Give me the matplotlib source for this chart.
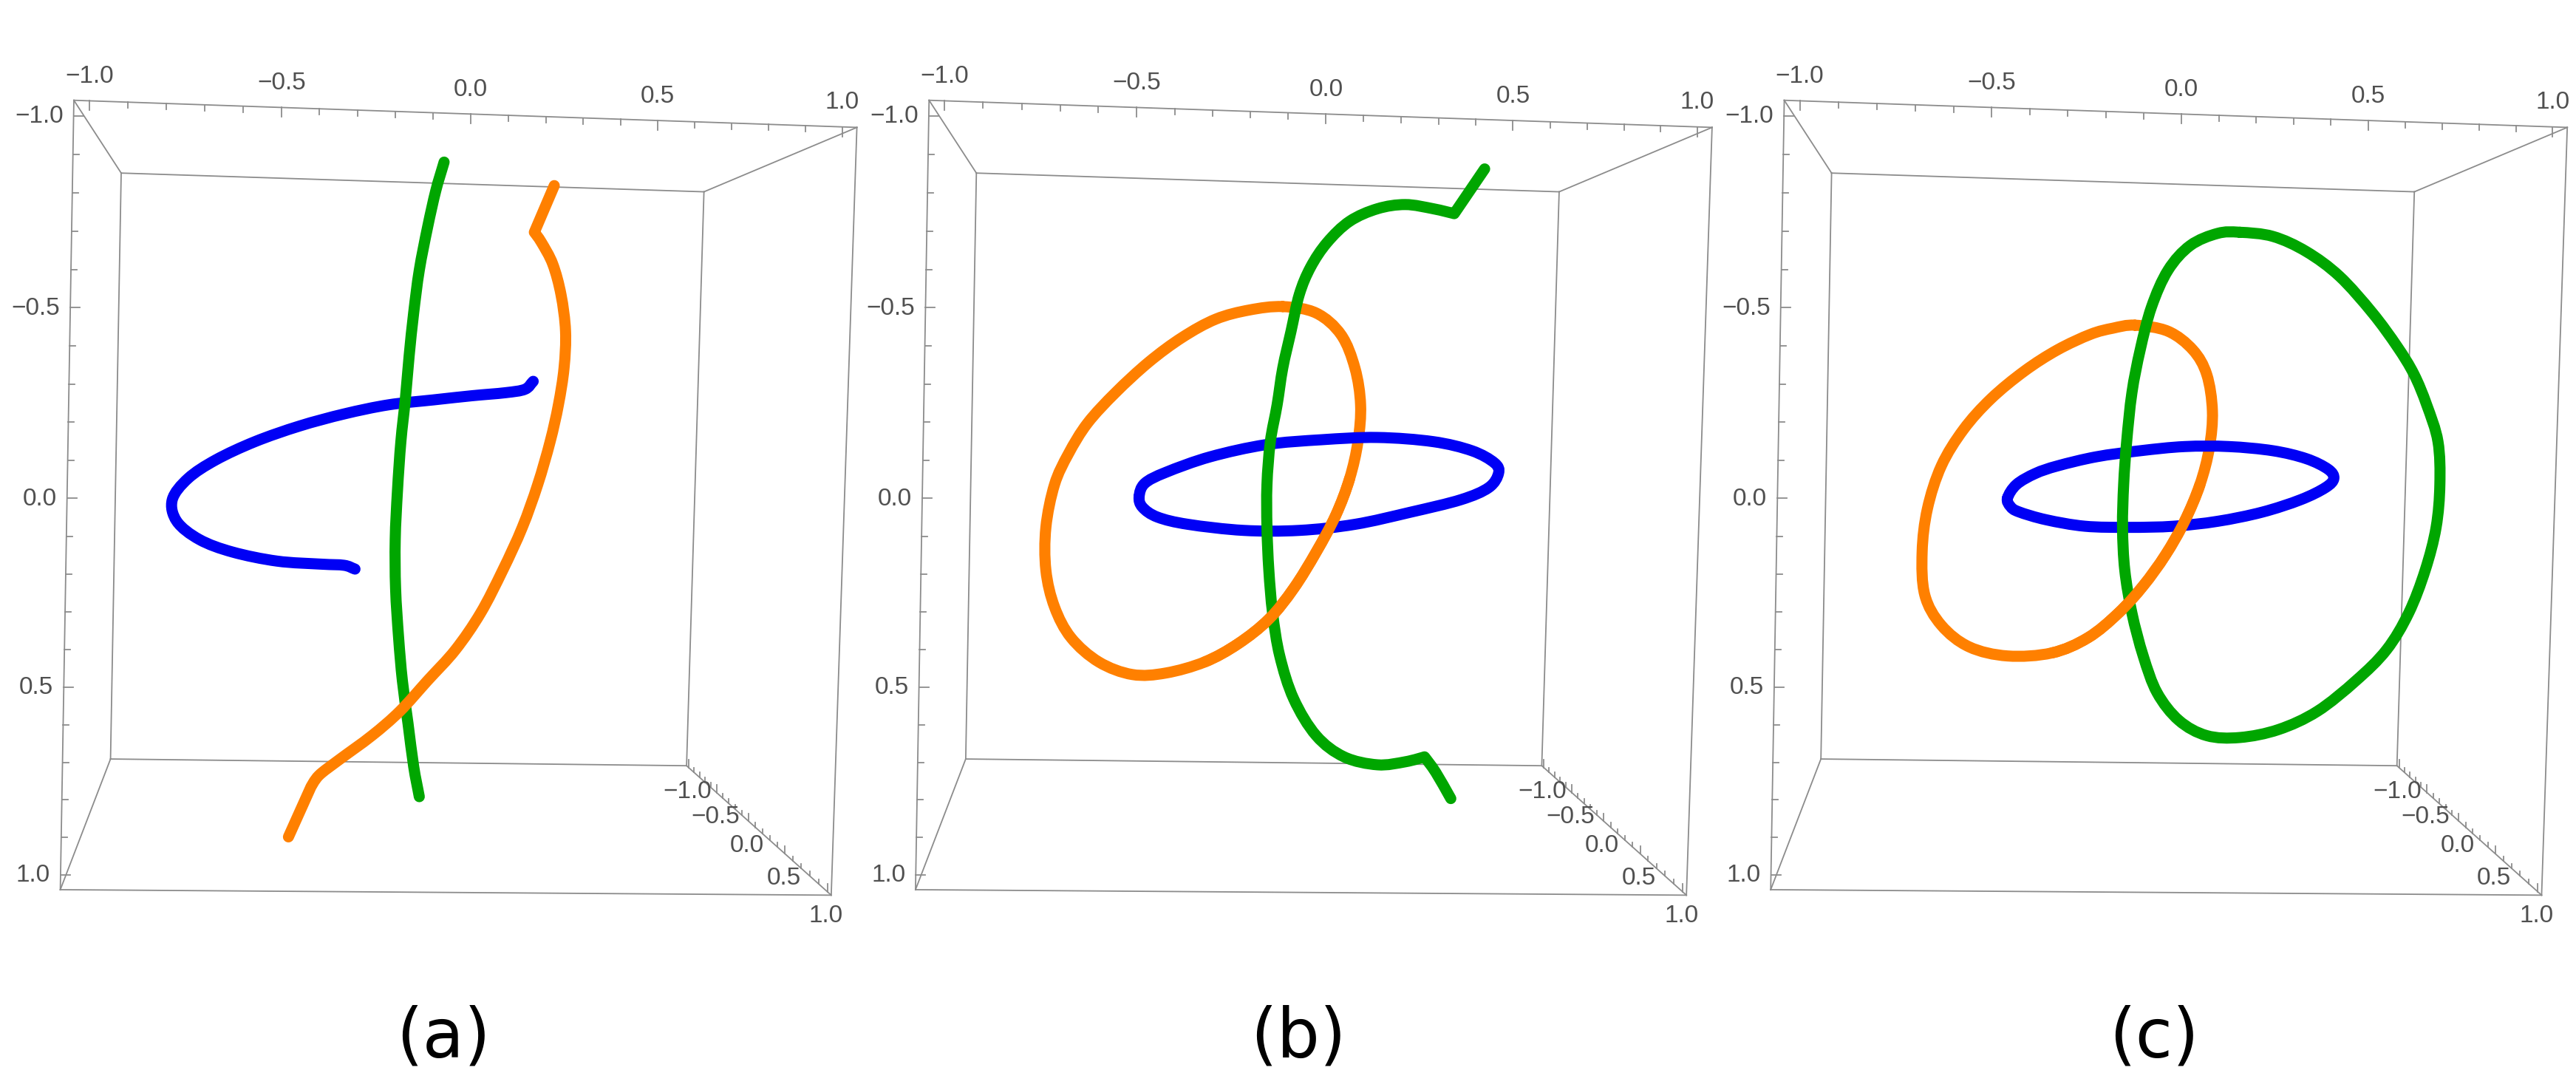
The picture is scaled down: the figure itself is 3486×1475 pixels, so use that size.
import numpy as np
import matplotlib.pyplot as plt
from matplotlib.path import Path
from matplotlib.patches import PathPatch

# curve points in (x, y) box units (y grows downward)
# panel (a)
a_blue_x = [0.179, 0.157, 0.105, 0.016, -0.087, -0.206, -0.324, -0.443, -0.561, -0.665,
            -0.739, -0.781, -0.769, -0.709, -0.621, -0.502, -0.384, -0.324, -0.295]
a_blue_y = [-0.300, -0.279, -0.270, -0.262, -0.251, -0.238, -0.214, -0.182, -0.141, -0.093,
            -0.044, 0.012, 0.069, 0.117, 0.150, 0.174, 0.182, 0.185, 0.195]
a_orange_x = [0.235, 0.182, 0.201, 0.231, 0.253, 0.265, 0.261, 0.246, 0.224, 0.191, 0.150,
              0.098, 0.039, -0.028, -0.102, -0.176, -0.250, -0.339, -0.391, -0.413, -0.472]
a_orange_y = [-0.816, -0.693, -0.666, -0.609, -0.528, -0.432, -0.335, -0.238, -0.141, -0.028, 0.085,
              0.198, 0.311, 0.408, 0.489, 0.570, 0.634, 0.699, 0.739, 0.771, 0.901]
a_green_x = [-0.058, -0.080, -0.102, -0.124, -0.139, -0.151, -0.161, -0.173, -0.182, -0.188,
             -0.187, -0.179, -0.169, -0.154, -0.139, -0.124]
a_green_y = [-0.878, -0.803, -0.706, -0.593, -0.480, -0.367, -0.254, -0.141, -0.012, 0.117,
             0.247, 0.376, 0.489, 0.602, 0.715, 0.795]

# panel (b)
b_blue_x = [-0.484, -0.469, -0.413, -0.295, -0.147, 0.001, 0.150, 0.298, 0.401, 0.461, 0.472,
            0.446, 0.372, 0.238, 0.090, -0.058, -0.206, -0.354, -0.435, -0.475]
b_blue_y = [0.004, -0.031, -0.060, -0.101, -0.133, -0.146, -0.152, -0.141, -0.117, -0.085, -0.058,
            -0.020, 0.012, 0.045, 0.077, 0.093, 0.093, 0.077, 0.058, 0.032]
b_orange_x = [-0.102, -0.013, 0.053, 0.090, 0.105, 0.098, 0.076, 0.039, -0.013, -0.073,
              -0.139, -0.221, -0.310, -0.413, -0.502, -0.591, -0.665, -0.709, -0.732, -0.732,
              -0.709, -0.672, -0.621, -0.547, -0.458, -0.369, -0.280, -0.191]
b_orange_y = [-0.497, -0.480, -0.423, -0.335, -0.238, -0.141, -0.044, 0.053, 0.150, 0.246,
              0.327, 0.392, 0.440, 0.469, 0.473, 0.440, 0.376, 0.295, 0.198, 0.085,
              -0.028, -0.109, -0.190, -0.270, -0.351, -0.416, -0.464, -0.488]
b_green_x = [0.435, 0.354, 0.298, 0.224, 0.150, 0.076, 0.016, -0.028, -0.058, -0.080,
             -0.102, -0.117, -0.135, -0.144, -0.144, -0.139, -0.129, -0.110, -0.073, -0.013,
             0.061, 0.150, 0.224, 0.275, 0.305, 0.345]
b_green_y = [-0.860, -0.742, -0.755, -0.766, -0.755, -0.722, -0.666, -0.601, -0.529, -0.432,
             -0.335, -0.238, -0.141, -0.028, 0.085, 0.198, 0.311, 0.424, 0.537, 0.634,
             0.690, 0.711, 0.703, 0.690, 0.731, 0.800]

# panel (c)
c_blue_x = [-0.449, -0.425, -0.375, -0.316, -0.213, -0.096, 0.022, 0.140, 0.257, 0.346, 0.404,
            0.419, 0.397, 0.331, 0.228, 0.110, -0.007, -0.125, -0.243, -0.346, -0.419, -0.441]
c_blue_y = [0.008, -0.028, -0.057, -0.077, -0.101, -0.117, -0.128, -0.128, -0.117, -0.096, -0.068,
            -0.044, -0.020, 0.012, 0.045, 0.069, 0.082, 0.085, 0.082, 0.065, 0.044, 0.030]
c_orange_x = [-0.110, -0.022, 0.044, 0.081, 0.096, 0.088, 0.063, 0.022, -0.029, -0.088,
              -0.154, -0.235, -0.331, -0.449, -0.551, -0.625, -0.669, -0.676, -0.662, -0.625,
              -0.566, -0.493, -0.404, -0.316, -0.228, -0.169]
c_orange_y = [-0.448, -0.432, -0.383, -0.318, -0.222, -0.125, -0.028, 0.069, 0.158, 0.239,
              0.311, 0.376, 0.416, 0.424, 0.400, 0.343, 0.263, 0.150, 0.036, -0.077,
              -0.173, -0.254, -0.327, -0.383, -0.424, -0.440]
c_green_x = [0.169, 0.257, 0.346, 0.434, 0.522, 0.588, 0.632, 0.666, 0.696, 0.701,
             0.691, 0.662, 0.618, 0.559, 0.478, 0.375, 0.272, 0.169, 0.081, 0.007,
             -0.051, -0.088, -0.118, -0.137, -0.143, -0.140, -0.132, -0.118, -0.096, -0.066,
             -0.022, 0.037, 0.110]
c_green_y = [-0.693, -0.682, -0.642, -0.577, -0.480, -0.391, -0.319, -0.238, -0.141, -0.028,
             0.085, 0.198, 0.311, 0.408, 0.489, 0.570, 0.618, 0.639, 0.634, 0.594,
             0.521, 0.424, 0.311, 0.198, 0.085, -0.028, -0.141, -0.270, -0.383, -0.496,
             -0.593, -0.658, -0.690]

panel_labels = ['(a)', '(b)', '(c)']
tick_vals = np.round(np.arange(-1.0, 1.01, 0.1), 1) + 0.0
major_vals = [-1.0, -0.5, 0.0, 0.5, 1.0]

BLUE, ORANGE, GREEN = '#0000f5', '#ff8000', '#00a600'

# layout of one panel, in pixels
W, H = 3487, 1475
PANEL_W = 1157.3
SX, SY = 508.8, 513.3
X0, Y0 = 630.5, 670.0
B = 1.04
PX = 1 / SX
PY = 1 / SY

# box corners seen in the picture, used to fit the perspective camera
corner3d = [(-B, -B, B), (B, -B, B), (-B, B, B), (B, B, B),
            (-B, -B, -B), (B, -B, -B), (-B, B, -B), (B, B, -B)]
corner_px = [(100, 136), (1160, 172.7), (81, 1204), (1125, 1210.7),
             (164, 234), (952.3, 259.3), (150, 1027), (929, 1036.7)]
edges = [(0, 1), (1, 3), (3, 2), (2, 0), (4, 5), (5, 7), (7, 6), (6, 4),
         (0, 4), (1, 5), (2, 6), (3, 7)]


def fit_camera(pts3, pts2):
    A, b = [], []
    for (X, Y, Z), (x, y) in zip(pts3, pts2):
        A.append([X, Y, Z, 1, 0, 0, 0, 0, -x * X, -x * Y, -x * Z])
        b.append(x)
        A.append([0, 0, 0, 0, X, Y, Z, 1, -y * X, -y * Y, -y * Z])
        b.append(y)
    p = np.linalg.lstsq(np.array(A), np.array(b), rcond=None)[0]
    return np.append(p, 1).reshape(3, 4)


corner_uv = [((x - X0) / SX, (y - Y0) / SY) for x, y in corner_px]
P = fit_camera(corner3d, corner_uv)


def project(X, Y, Z):
    h = P @ np.array([X, Y, Z, 1.0])
    return h[0] / h[2], h[1] / h[2]


def draw_box(ax):
    box_kw = dict(color='#8c8c8c', lw=1.3, clip_on=False, zorder=1)
    for i, j in edges:
        p, q = project(*corner3d[i]), project(*corner3d[j])
        ax.plot([p[0], q[0]], [p[1], q[1]], **box_kw)
    txt_kw = dict(family='Liberation Sans', fontsize=24, color='#505050', clip_on=False)
    for t in tick_vals:
        major = t in major_vals
        ln = 13 if major else 8
        lab = f'{t:.1f}'.replace('-', '\u2212')
        # top front edge
        x, y = project(t, -B, B)
        ax.plot([x, x], [y, y + ln * PY], **box_kw)
        if major:
            ax.text(x, y - 33 * PY, lab, ha='center', va='center', **txt_kw)
        # left front edge
        x, y = project(-B, t, B)
        ax.plot([x, x + ln * PX], [y, y], **box_kw)
        if major:
            ax.text(x - 14 * PX, y + 1 * PY, lab, ha='right', va='center', **txt_kw)
        # depth edge, bottom right
        x, y = project(B, B, t)
        ax.plot([x, x], [y, y - 0.8 * ln * PY], **box_kw)
        if major:
            ax.text(x - 2 * PX, y + 33 * PY, lab, ha='center', va='center', **txt_kw)


def bezier_segments(xs, ys, closed, kinks=()):
    # smooth path through the read points (Catmull-Rom tangents)
    p = np.column_stack([xs, ys])
    n = len(p)
    m = np.zeros_like(p)
    for i in range(n):
        if closed:
            m[i] = (p[(i + 1) % n] - p[i - 1]) / 2
        elif i == 0:
            m[i] = p[1] - p[0]
        elif i == n - 1:
            m[i] = p[-1] - p[-2]
        else:
            m[i] = (p[i + 1] - p[i - 1]) / 2
    for i in kinks:
        m[i] = 0
    segs = []
    for i in range(n if closed else n - 1):
        j = (i + 1) % n
        segs.append([p[i], p[i] + m[i] / 3, p[j] - m[j] / 3, p[j]])
    return segs


def draw_curve(ax, segs, color, z):
    verts = [segs[0][0]]
    codes = [Path.MOVETO]
    for s in segs:
        verts += s[1:]
        codes += [Path.CURVE4] * 3
    patch = PathPatch(Path(verts, codes), fill=False, edgecolor=color, lw=10.8,
                      capstyle='round', joinstyle='round', zorder=z, clip_on=False)
    ax.add_patch(patch)


# (x, y, colour, closed, zorder, kink indices)
curves = [
    [(a_blue_x, a_blue_y, BLUE, False, 2, ()), (a_green_x, a_green_y, GREEN, False, 3, ()),
     (a_orange_x, a_orange_y, ORANGE, False, 4, (1, 19))],
    [(b_orange_x, b_orange_y, ORANGE, True, 2, ()), (b_blue_x, b_blue_y, BLUE, True, 3, ()),
     (b_green_x, b_green_y, GREEN, False, 4, (1, 23))],
    [(c_orange_x, c_orange_y, ORANGE, True, 2, ()), (c_blue_x, c_blue_y, BLUE, True, 3, ()),
     (c_green_x, c_green_y, GREEN, True, 4, ())],
]
# stretch of the orange ring that passes in front of the others (panels b, c)
front_piece = (6, 12)

fig = plt.figure(figsize=(W / 100, H / 100), dpi=100)
for k in range(3):
    ax = fig.add_axes([k * PANEL_W / W, 0, PANEL_W / W, 1])
    ax.set_xlim((0 - X0) / SX, (PANEL_W - X0) / SX)
    ax.set_ylim((H - Y0) / SY, (0 - Y0) / SY)
    ax.axis('off')
    draw_box(ax)
    for xs, ys, col, closed, z, kinks in curves[k]:
        segs = bezier_segments(xs, ys, closed, kinks)
        draw_curve(ax, segs, col, z)
        if k > 0 and col == ORANGE:
            draw_curve(ax, segs[front_piece[0]:front_piece[1]], col, 5)
    ax.text((600 - X0) / SX, (1430 - Y0) / SY, panel_labels[k], ha='center', va='baseline',
            family='DejaVu Sans', fontsize=66, color='black')

fig.savefig('out.png', dpi=100, facecolor='white')
